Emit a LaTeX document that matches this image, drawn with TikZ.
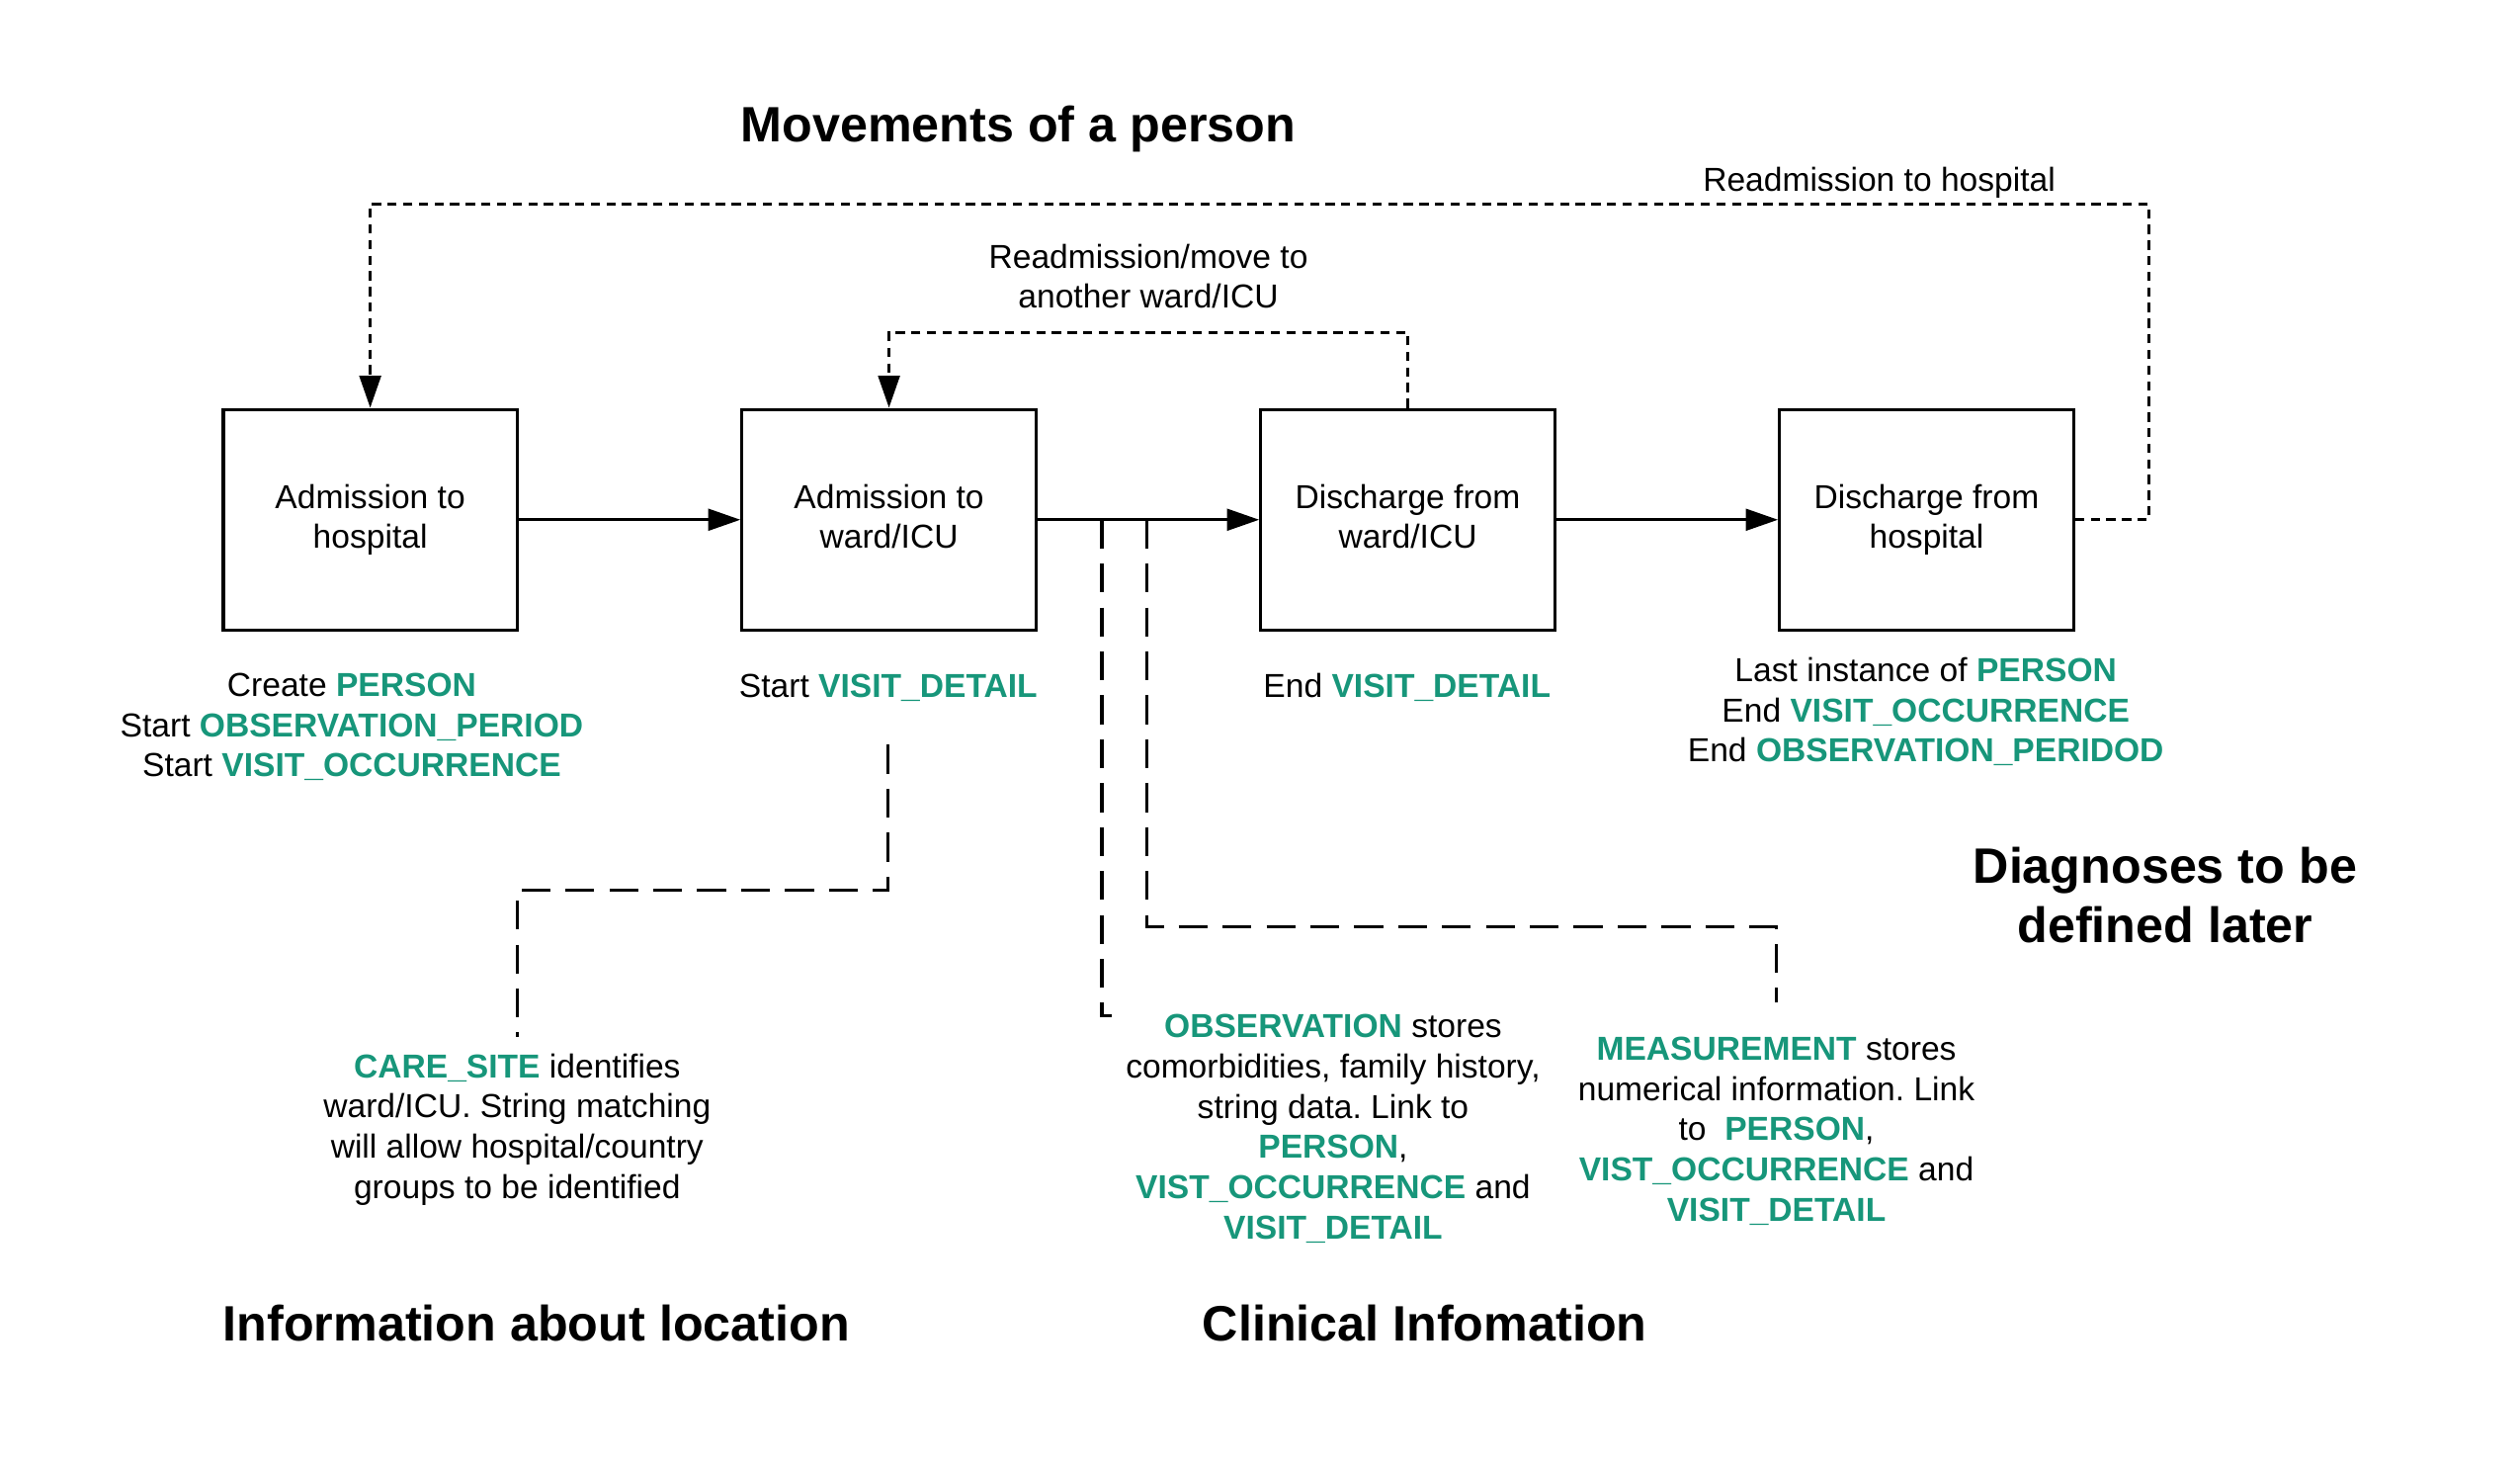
\documentclass[tikz,border=0pt]{standalone}
\usepackage{fontspec}
\setmainfont{Liberation Sans}
\usetikzlibrary{arrows.meta,positioning}
\definecolor{omopgreen}{HTML}{17967A}
\newcommand{\tbl}[1]{\textcolor{omopgreen}{\textbf{#1}}}
\frenchspacing

\begin{document}
\begin{tikzpicture}[x=0.75pt,y=-0.75pt,
    line width=1.5pt,
    every node/.style={font=\fontsize{15.5pt}{18.75pt}\selectfont,align=center,inner sep=2pt},
    stage box/.style={rectangle,draw,minimum width=137.25pt,minimum height=103pt,
      execute at end node=\vphantom{gp}},
    title text/.style={font=\fontsize{23.2pt}{27.8pt}\selectfont\bfseries},
    flow/.style={-{Triangle[length=15pt,width=10pt]}},
    readm/.style={dash pattern=on 4.3pt off 3pt,-{Triangle[length=15pt,width=10pt]}},
    link/.style={dash pattern=on 13.5pt off 7pt}]

  \useasboundingbox (0,0) rectangle (1569,913);

  % Define stages
  \node[stage box] (admhosp) at (230.5,323.5) {Admission to\\hospital};
  \node[stage box,right=103.5pt of admhosp] (admward) {Admission to\\ward/ICU};
  \node[stage box,right=103.5pt of admward] (disward) {Discharge from\\ward/ICU};
  \node[stage box,right=103.5pt of disward] (dishosp) {Discharge from\\hospital};

  % Define notes below stages
  \node (lblperson) at (219,452.5) {Create \tbl{PERSON}\\Start \tbl{OBSERVATION\_PERIOD}\\Start \tbl{VISIT\_OCCURRENCE}};
  \node (lblstartvd) at (553,428) {Start \tbl{VISIT\_DETAIL}};
  \node (lblendvd) at (876,428) {End \tbl{VISIT\_DETAIL}};
  \node (lbllast) at (1199,443) {Last instance of \tbl{PERSON}\\End \tbl{VISIT\_OCCURRENCE}\\End \tbl{OBSERVATION\_PERIDOD}};

  % Define tables
  \node (caresite) at (322,703) {\tbl{CARE\_SITE} identifies\\ward/ICU. String matching\\will allow hospital/country\\groups to be identified};
  \node (observ) at (830,702.5) {\tbl{OBSERVATION} stores\\comorbidities, family history,\\string data. Link to\\\tbl{PERSON},\\\tbl{VIST\_OCCURRENCE} and\\\tbl{VISIT\_DETAIL}};
  \node (measure) at (1106,704) {\tbl{MEASUREMENT} stores\\numerical information. Link\\to~~\tbl{PERSON},\\\tbl{VIST\_OCCURRENCE} and\\\tbl{VISIT\_DETAIL}};

  % Titles
  \node[title text] (ttlmove) at (634,80.5) {Movements of a person};
  \node[title text] (ttldiag) at (1348,557) {Diagnoses to be\\defined later};
  \node[title text] (ttlloc) at (334,823.5) {Information about location};
  \node[title text] (ttlclin) at (887,823.5) {Clinical Infomation};

  % Readmission labels
  \node (lblrehosp) at (1170,114) {Readmission to hospital};
  \node (lblreward) at (715,172) {Readmission/move to\\another ward/ICU};

  % Movements
  \draw[flow] (admhosp) -- (admward);
  \draw[flow] (admward) -- (disward);
  \draw[flow] (disward) -- (dishosp);
  \draw[readm] (dishosp.east) -| (1338,127) -| (admhosp.north);
  \draw[readm] (disward.north) -- ++(0,-47) -| (admward.north);

  % Links to tables
  \coordinate (tapobs) at (686,323.5);
  \coordinate (tapmeas) at (714,323.5);
  \coordinate (obsend) at (692,632);
  \draw[link] ([yshift=-17.6pt]lblstartvd.south) -- (553,554) -| ([yshift=5pt]caresite.north);
  \draw[link] (tapobs) |- (obsend);
  \draw[link] (tapmeas) -- (714,577) -| ([yshift=13.5pt]measure.north);

\end{tikzpicture}
\end{document}
